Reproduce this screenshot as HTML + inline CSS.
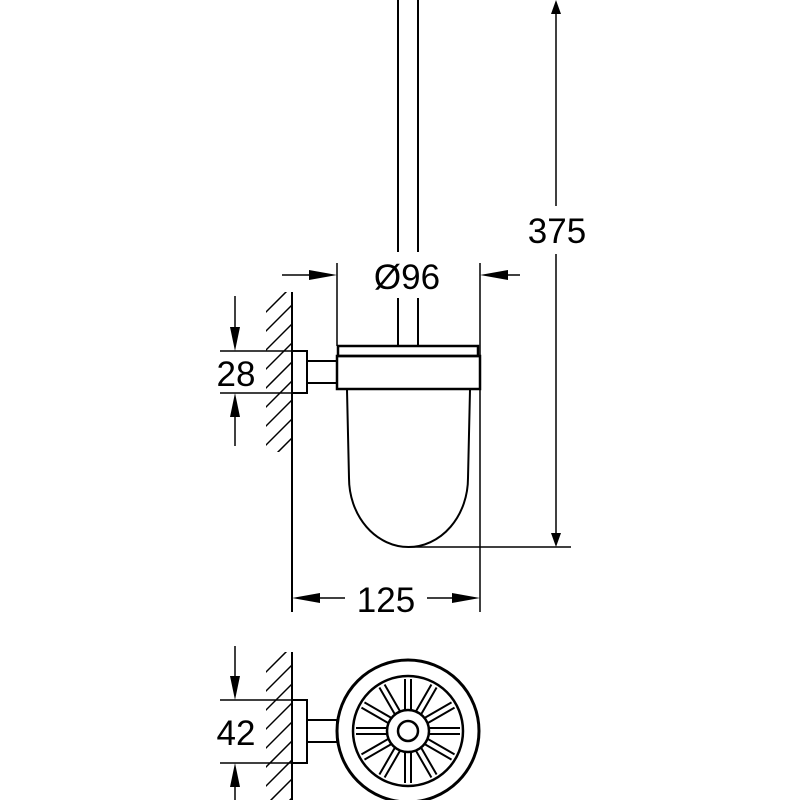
<!DOCTYPE html>
<html><head><style>html,body{margin:0;background:#fff}svg{display:block}</style></head><body>
<svg width="800" height="800" viewBox="0 0 800 800" xmlns="http://www.w3.org/2000/svg" font-family="Liberation Sans, sans-serif">
<defs>
<clipPath id="h1"><rect x="266" y="292" width="26" height="160"/></clipPath>
<clipPath id="h2"><rect x="266" y="652" width="26" height="150"/></clipPath>
</defs>
<g stroke="#000" fill="none" stroke-width="2">
<line x1="292" y1="292" x2="292" y2="612"/>
<g clip-path="url(#h1)" stroke-width="1.5">
<path d="M262 316 l30 -30 M262 335 l30 -30 M262 354 l30 -30 M262 373 l30 -30 M262 392 l30 -30 M262 411 l30 -30 M262 430 l30 -30 M262 449 l30 -30 M262 468 l30 -30 M262 487 l30 -30"/>
</g>
<rect x="292" y="351" width="15" height="42"/>
<rect x="307" y="361" width="30" height="22"/>
<line x1="398" y1="0" x2="398" y2="252"/>
<line x1="418" y1="0" x2="418" y2="252"/>
<line x1="398" y1="298" x2="398" y2="346"/>
<line x1="418" y1="298" x2="418" y2="346"/>
<rect x="338" y="346" width="140" height="10" stroke-width="2.5"/>
<rect x="337" y="356" width="143" height="33" stroke-width="2.5"/>
<path d="M347 390 L349 478 A59.5 69 0 0 0 468 478 L470 390"/>
<line x1="337" y1="263" x2="337" y2="346" stroke-width="1.5"/>
<line x1="480" y1="263" x2="480" y2="612" stroke-width="1.5"/>
<line x1="408" y1="547" x2="571" y2="547" stroke-width="1.5"/>
<line x1="556" y1="10" x2="556" y2="206" stroke-width="1.5"/>
<line x1="556" y1="254" x2="556" y2="535" stroke-width="1.5"/>
<line x1="282" y1="275" x2="327" y2="275" stroke-width="1.5"/>
<line x1="490" y1="275" x2="520" y2="275" stroke-width="1.5"/>
<line x1="220" y1="351" x2="292" y2="351" stroke-width="1.5"/>
<line x1="220" y1="393" x2="292" y2="393" stroke-width="1.5"/>
<line x1="235" y1="296" x2="235" y2="340" stroke-width="1.5"/>
<line x1="235" y1="405" x2="235" y2="446" stroke-width="1.5"/>
<line x1="302" y1="598" x2="345" y2="598" stroke-width="1.5"/>
<line x1="427" y1="598" x2="470" y2="598" stroke-width="1.5"/>
<line x1="292" y1="652" x2="292" y2="800"/>
<g clip-path="url(#h2)" stroke-width="1.5">
<path d="M262 676 l30 -30 M262 695 l30 -30 M262 714 l30 -30 M262 733 l30 -30 M262 752 l30 -30 M262 771 l30 -30 M262 790 l30 -30 M262 809 l30 -30 M262 828 l30 -30"/>
</g>
<line x1="220" y1="700" x2="292" y2="700" stroke-width="1.5"/>
<line x1="220" y1="763" x2="292" y2="763" stroke-width="1.5"/>
<rect x="292" y="700" width="15" height="63"/>
<rect x="307" y="720" width="30" height="22"/>
<line x1="235" y1="646" x2="235" y2="690" stroke-width="1.5"/>
<line x1="235" y1="775" x2="235" y2="800" stroke-width="1.5"/>
<circle cx="408" cy="731" r="71" stroke-width="3"/>
<circle cx="408" cy="731" r="55" stroke-width="2.5"/>
<circle cx="408" cy="731" r="21" stroke-width="2.5"/>
<circle cx="408" cy="731" r="10" stroke-width="2.5"/>
<g stroke-width="2" id="sp">
<path d="M405 710 L405 679 M411 710 L411 679"/>
</g>
<use href="#sp" transform="rotate(30 408 731)"/>
<use href="#sp" transform="rotate(60 408 731)"/>
<use href="#sp" transform="rotate(90 408 731)"/>
<use href="#sp" transform="rotate(120 408 731)"/>
<use href="#sp" transform="rotate(150 408 731)"/>
<use href="#sp" transform="rotate(180 408 731)"/>
<use href="#sp" transform="rotate(210 408 731)"/>
<use href="#sp" transform="rotate(240 408 731)"/>
<use href="#sp" transform="rotate(270 408 731)"/>
<use href="#sp" transform="rotate(300 408 731)"/>
<use href="#sp" transform="rotate(330 408 731)"/>
</g>
<g fill="#000">
<path d="M337 275 L309 270 L309 280Z"/>
<path d="M480 275 L508 270 L508 280Z"/>
<path d="M556 0 L551 14 L561 14Z"/>
<path d="M556 547 L551 533 L561 533Z"/>
<path d="M235 351 L230 327 L240 327Z"/>
<path d="M235 393 L230 417 L240 417Z"/>
<path d="M292 598 L320 593 L320 603Z"/>
<path d="M480 598 L452 593 L452 603Z"/>
<path d="M235 700 L230 676 L240 676Z"/>
<path d="M235 763 L230 787 L240 787Z"/>
</g>
<g font-size="35" fill="#000" text-anchor="middle">
<text x="407" y="289">Ø96</text>
<text x="557" y="243">375</text>
<text x="236" y="386">28</text>
<text x="386" y="612">125</text>
<text x="236" y="745">42</text>
</g>
</svg>
</body></html>
